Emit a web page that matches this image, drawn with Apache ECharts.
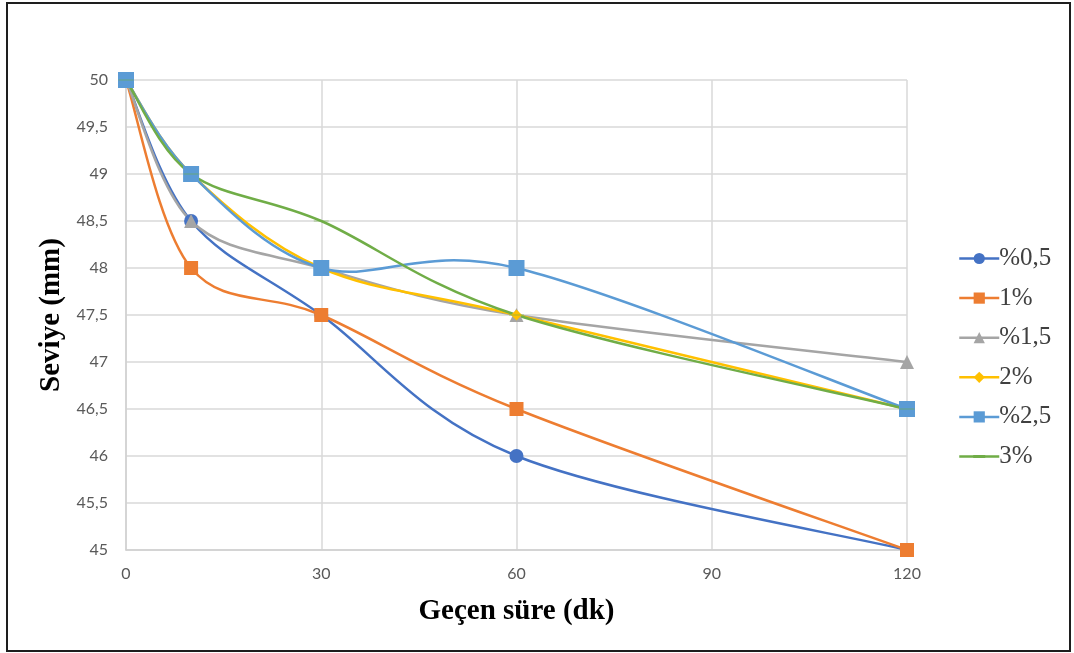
<!DOCTYPE html>
<html>
<head>
<meta charset="utf-8">
<script src="https://cdn.jsdelivr.net/npm/echarts@6/dist/echarts.min.js"></script>
<style>
  html, body { margin: 0; padding: 0; background: #ffffff; }
  #chart { width: 1074px; height: 653px; }
</style>
</head>
<body>
<div id="chart"></div>
<script>
// Elapsed time (minutes) at which the level was measured
const elapsedMinutes = [0, 10, 30, 60, 120];

// Level (mm) for each additive ratio
const seriesNames = ['%0,5', '1%', '%1,5', '2%', '%2,5', '3%'];
const level05 = [50, 48.5, 47.5, 46, 45];
const level1 = [50, 48, 47.5, 46.5, 45];
const level15 = [50, 48.5, 48, 47.5, 47];
const level2 = [50, 49, 48, 47.5, 46.5];
const level25 = [50, 49, 48, 48, 46.5];
const level3 = [50, 49, 48.5, 47.5, 46.5];

const xTicks = [0, 30, 60, 90, 120];

const seriesValues = [level05, level1, level15, level2, level25, level3];
const colors = ['#4472C4', '#ED7D31', '#A5A5A5', '#FFC000', '#5B9BD5', '#70AD47'];
const symbols = ['circle', 'rect', 'triangle', 'diamond', 'rect', 'path://M0,0 L15,0 L15,3 L0,3 Z'];
const symbolSizes = [14, 14, 14, 11, 16, [15, 3]];

// Legend key for the dash-marker series: a line with a short thicker dash
// (the leading moves pin the icon box to 40 x 14).
const dashLegendIcon = 'path://M0,0 M40,14 M0,5.8 L14,5.8 L14,5.4 L26,5.4 L26,5.8 L40,5.8 ' +
  'L40,8.2 L26,8.2 L26,8.6 L14,8.6 L14,8.2 L0,8.2 Z';

// Smoothed curve through the points: cubic Bezier segments whose
// tangents are one sixth of the chord between the neighbouring points.
function smoothPath(pts) {
  const n = pts.length;
  let d = 'M' + pts[0][0] + ',' + pts[0][1];
  const tangent = (i) => {
    const a = pts[Math.max(i - 1, 0)];
    const b = pts[Math.min(i + 1, n - 1)];
    return [(b[0] - a[0]) / 6, (b[1] - a[1]) / 6];
  };
  for (let i = 0; i < n - 1; i++) {
    const t0 = tangent(i);
    const t1 = tangent(i + 1);
    const p0 = pts[i];
    const p1 = pts[i + 1];
    d += ' C' + (p0[0] + t0[0]) + ',' + (p0[1] + t0[1]) + ' ' +
      (p1[0] - t1[0]) + ',' + (p1[1] - t1[1]) + ' ' + p1[0] + ',' + p1[1];
  }
  return d;
}

const chart = echarts.init(document.getElementById('chart'), null, { renderer: 'canvas' });

const series = [];
seriesNames.forEach((name, i) => {
  const values = seriesValues[i];
  // curve
  series.push({
    name: name + ' curve',
    type: 'custom',
    coordinateSystem: 'cartesian2d',
    data: [[elapsedMinutes[0], values[0]]],
    silent: true,
    clip: false,
    renderItem: (params, api) => {
      const pts = elapsedMinutes.map((x, j) => api.coord([x, values[j]]));
      return {
        type: 'path',
        shape: { pathData: smoothPath(pts) },
        style: { fill: 'none', stroke: colors[i], lineWidth: 2.5, lineJoin: 'round', lineCap: 'round' }
      };
    },
    animation: false
  });
  // markers
  series.push({
    name: name,
    type: 'line',
    data: elapsedMinutes.map((x, j) => [x, values[j]]),
    symbol: symbols[i],
    symbolSize: symbolSizes[i],
    symbolKeepAspect: true,
    showAllSymbol: true,
    lineStyle: { color: colors[i], width: 2.5, opacity: 0 },
    itemStyle: { color: colors[i] },
    emphasis: { disabled: true },
    animation: false
  });
});

const legendData = seriesNames.map((name, i) =>
  i === seriesNames.length - 1 ? { name: name, icon: dashLegendIcon } : { name: name });

chart.setOption({
  backgroundColor: '#ffffff',
  animation: false,
  grid: { left: 126, right: 167, top: 80, bottom: 103, containLabel: false },
  xAxis: {
    type: 'value',
    min: 0,
    max: 120,
    interval: 30,
    name: 'Geçen süre (dk)',
    nameLocation: 'middle',
    nameGap: 47,
    nameTextStyle: { fontFamily: 'Liberation Serif', fontWeight: 'bold', fontSize: 29, color: '#000000' },
    axisLine: { show: true, lineStyle: { color: '#d0d0d0', width: 1.5 } },
    axisTick: { show: false },
    axisLabel: {
      margin: 16,
      fontFamily: 'Lato',
      fontSize: 16,
      color: '#595959',
      customValues: xTicks
    },
    splitLine: { show: true, lineStyle: { color: '#d9d9d9', width: 1.5 } }
  },
  yAxis: {
    type: 'value',
    min: 45,
    max: 50,
    interval: 0.5,
    name: 'Seviye (mm)',
    nameLocation: 'middle',
    nameGap: 57,
    nameTextStyle: { fontFamily: 'Liberation Serif', fontWeight: 'bold', fontSize: 29, color: '#000000' },
    axisLine: { show: true, lineStyle: { color: '#d0d0d0', width: 1.5 } },
    axisTick: { show: false },
    axisLabel: {
      margin: 18,
      fontFamily: 'Lato',
      fontSize: 16,
      color: '#595959',
      formatter: v => String(v).replace('.', ',')
    },
    splitLine: { show: true, lineStyle: { color: '#d9d9d9', width: 1.5 } }
  },
  legend: {
    orient: 'vertical',
    left: 953,
    top: 241,
    itemWidth: 40,
    itemHeight: 14,
    itemGap: 14.6,
    data: legendData,
    lineStyle: { opacity: 1, width: 2.5 },
    textStyle: { fontFamily: 'Liberation Serif', fontSize: 25, color: '#404040', padding: [0, 0, 0, -5] }
  },
  graphic: [
    {
      type: 'rect',
      shape: { x: 7, y: 3, width: 1063, height: 648 },
      style: { fill: 'none', stroke: '#1e1e1e', lineWidth: 2 },
      silent: true
    }
  ],
  series: series
});
</script>
</body>
</html>
